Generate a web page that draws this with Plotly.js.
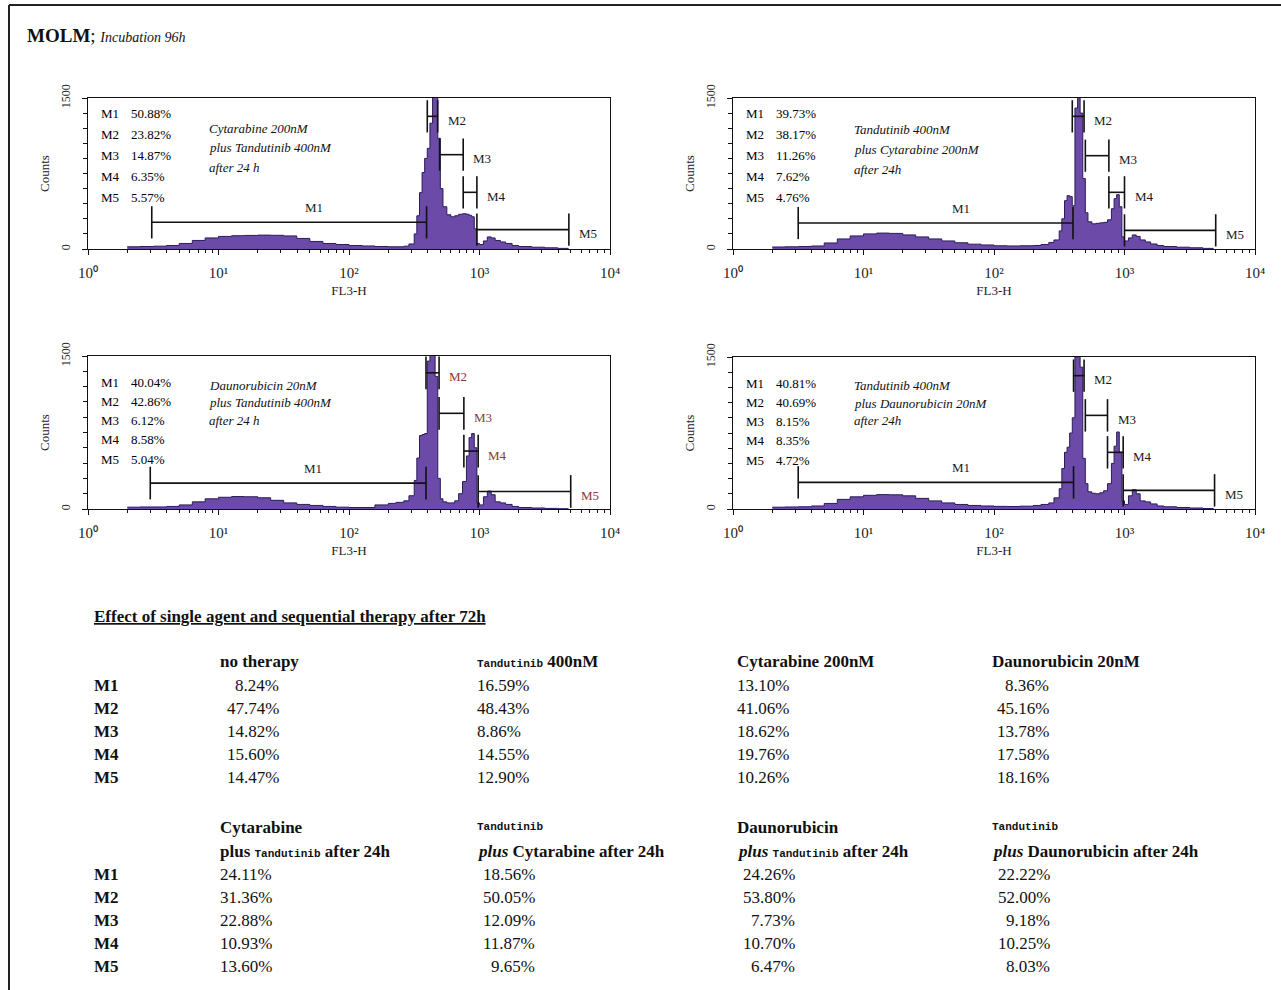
<!DOCTYPE html>
<html><head><meta charset="utf-8">
<script src="https://cdn.plot.ly/plotly-3.0.1.min.js"></script>
<style>html,body{margin:0;padding:0;background:#fff}#chart{width:1281px;height:990px}</style>
</head><body><div id="chart"></div>
<script>
// ---------- DATA ----------
// FL3-H channel values (left edge of each histogram bin)
const fl3 = [2.0, 2.5, 3.2, 4.0, 5.0, 6.3, 7.9, 10, 12.6, 15.8, 20, 25.1, 31.6, 39.8, 50.1, 63.1, 79.4,
  100, 126, 158, 200, 229, 263, 288, 316, 331, 347, 363, 380, 398, 417, 437, 457, 479, 501, 525, 562,
  603, 646, 692, 741, 794, 832, 871, 912, 955, 1000, 1072, 1148, 1230, 1318, 1445, 1585, 1778, 1995,
  2512, 3162, 3981, 4786];

// Counts per bin
const countsCytTan = [22, 25, 28, 35, 55, 85, 110, 125, 132, 135, 138, 136, 130, 105, 75, 55, 45,
  35, 30, 25, 22, 22, 28, 50, 150, 330, 560, 760, 900, 1000, 1250, 1650, 1700, 1100, 600, 420, 340,
  320, 330, 345, 350, 345, 335, 320, 200, 55, 45, 80, 120, 110, 85, 70, 55, 35, 25, 18, 12, 6, 0];
const countsTanCyt = [20, 22, 25, 30, 60, 100, 130, 150, 158, 155, 140, 120, 100, 80, 62, 48, 40,
  32, 30, 32, 35, 45, 65, 90, 180, 300, 480, 530, 520, 430, 1400, 1700, 1350, 700, 360, 270, 250,
  255, 260, 265, 290, 400, 500, 540, 420, 120, 80, 110, 140, 125, 90, 70, 50, 35, 25, 18, 12, 6, 0];
const countsDauTan = [18, 20, 20, 25, 40, 70, 100, 115, 122, 120, 110, 85, 60, 45, 35, 25, 18,
  15, 15, 40, 55, 65, 80, 130, 280, 500, 720, 730, 740, 1450, 1700, 1750, 1300, 300, 100, 70, 60,
  60, 80, 150, 270, 520, 700, 740, 600, 60, 40, 120, 175, 140, 70, 60, 45, 25, 15, 10, 6, 3, 0];
const countsTanDau = [18, 20, 22, 30, 55, 95, 120, 135, 142, 140, 130, 105, 80, 60, 45, 35, 30,
  26, 25, 28, 35, 45, 60, 110, 200, 400, 560, 610, 750, 900, 1500, 1750, 1400, 500, 250, 170, 155,
  150, 160, 180, 250, 450, 620, 760, 560, 80, 45, 130, 190, 150, 80, 70, 50, 30, 22, 15, 10, 5, 0];

// Marker gates M1..M5: left / right FL3-H bounds and the count level of the bracket
const gateNames = ['M1', 'M2', 'M3', 'M4', 'M5'];
const gateLeftCytTan  = [3.08, 398, 495, 750, 955];
const gateRightCytTan = [393, 478, 750, 955, 4840];
const gateLevelCytTan = [265, 1318, 937, 563, 192];
const gateLeftTanCyt  = [3.16, 398, 501, 759, 1000];
const gateRightTanCyt = [403, 490, 759, 1000, 5000];
const gateLevelTanCyt = [258, 1318, 927, 563, 185];
const gateLeftDauTan  = [3.0, 389, 490, 759, 977];
const gateRightDauTan = [389, 490, 759, 977, 5000];
const gateLevelDauTan = [254, 1335, 938, 568, 172];
const gateLeftTanDau  = [3.16, 407, 501, 741, 977];
const gateRightTanDau = [407, 490, 741, 977, 4900];
const gateLevelTanDau = [263, 1316, 924, 559, 184];

// Gate percentages shown in each panel
const pctCytTan = ['50.88%', '23.82%', '14.87%', '6.35%', '5.57%'];
const pctTanCyt = ['39.73%', '38.17%', '11.26%', '7.62%', '4.76%'];
const pctDauTan = ['40.04%', '42.86%', '6.12%', '8.58%', '5.04%'];
const pctTanDau = ['40.81%', '40.69%', '8.15%', '8.35%', '4.72%'];

// Treatment captions
const treatCytTan = ['Cytarabine 200nM', 'plus Tandutinib 400nM', 'after 24 h'];
const treatTanCyt = ['Tandutinib 400nM', 'plus Cytarabine 200nM', 'after 24h'];
const treatDauTan = ['Daunorubicin 20nM', 'plus Tandutinib 400nM', 'after 24 h'];
const treatTanDau = ['Tandutinib 400nM', 'plus Daunorubicin 20nM', 'after 24h'];

// x tick labels (decades)
const xTickVals = [1, 10, 100, 1000, 10000];
const xTickText = ['10\u2070', '10\u00B9', '10\u00B2', '10\u00B3', '10\u2074'];

// Table (effect after 72h)
const tableRows = ['M1', 'M2', 'M3', 'M4', 'M5'];
const singleHeaders = ['no therapy', 'Tandutinib 400nM', 'Cytarabine 200nM', 'Daunorubicin 20nM'];
const singleNoTherapy   = ['8.24%', '47.74%', '14.82%', '15.60%', '14.47%'];
const singleTandutinib  = ['16.59%', '48.43%', '8.86%', '14.55%', '12.90%'];
const singleCytarabine  = ['13.10%', '41.06%', '18.62%', '19.76%', '10.26%'];
const singleDaunorubicin = ['8.36%', '45.16%', '13.78%', '17.58%', '18.16%'];
const seqHeaderLine1 = ['Cytarabine', 'Tandutinib', 'Daunorubicin', 'Tandutinib'];
const seqHeaderLine2 = ['plus Tandutinib after 24h', 'plus Cytarabine after 24h', 'plus Tandutinib after 24h', 'plus Daunorubicin after 24h'];
const seqCytTan = ['24.11%', '31.36%', '22.88%', '10.93%', '13.60%'];
const seqTanCyt = ['18.56%', '50.05%', '12.09%', '11.87%', '9.65%'];
const seqDauTan = ['24.26%', '53.80%', '7.73%', '10.70%', '6.47%'];
const seqTanDau = ['22.22%', '52.00%', '9.18%', '10.25%', '8.03%'];

// ---------- LAYOUT / DRAWING ----------
const W = 1281, H = 990;
const PX = x => x / W, PY = y => 1 - y / H;
const SERIF = 'Liberation Serif, Times New Roman, serif';

const panels = [
  {counts: countsCytTan, L: gateLeftCytTan, R: gateRightCytTan, V: gateLevelCytTan, pct: pctCytTan, treat: treatCytTan,
   box: [88, 610, 98, 249], statTop: 16, statStep: 21, treatTop: [31, 50, 70], labColor: '#1a1a1a'},
  {counts: countsTanCyt, L: gateLeftTanCyt, R: gateRightTanCyt, V: gateLevelTanCyt, pct: pctTanCyt, treat: treatTanCyt,
   box: [733, 1255, 98, 249], statTop: 16, statStep: 21, treatTop: [32, 52, 72], labColor: '#1a1a1a'},
  {counts: countsDauTan, L: gateLeftDauTan, R: gateRightDauTan, V: gateLevelDauTan, pct: pctDauTan, treat: treatDauTan,
   box: [88, 610, 356, 509], statTop: 26, statStep: 19.3, treatTop: [29, 46, 64], labColor: '#8a3a36'},
  {counts: countsTanDau, L: gateLeftTanDau, R: gateRightTanDau, V: gateLevelTanDau, pct: pctTanDau, treat: treatTanDau,
   box: [733, 1255, 357, 509], statTop: 26, statStep: 19.3, treatTop: [28, 46, 63], labColor: '#1a1a1a'}
];

const minorX = [];
for (let d = 0; d < 4; d++) for (let k = 2; k <= 9; k++) minorX.push(k * Math.pow(10, d));

const traces = [], annotations = [], shapes = [];
const layout = {
  width: W, height: H, margin: {l: 0, r: 0, t: 0, b: 0},
  paper_bgcolor: '#fff', plot_bgcolor: '#fff', showlegend: false,
  font: {family: SERIF, color: '#1a1a1a'}
};

panels.forEach((p, i) => {
  const n = i + 1, xs = n === 1 ? '' : String(n);
  const xa = 'x' + xs, ya = 'y' + xs;
  const [bx0, bx1, by0, by1] = p.box;
  const hpx = by1 - by0;
  layout['xaxis' + xs] = {
    type: 'log', range: [0, 4], domain: [PX(bx0), PX(bx1)], anchor: ya,
    showline: true, mirror: true, linecolor: '#111', linewidth: 1,
    ticks: 'outside', ticklen: 5, tickcolor: '#111', tickwidth: 1,
    tickmode: 'array', tickvals: xTickVals, ticktext: xTickText,
    ticklabelstandoff: 5,
    minor: {ticks: 'outside', ticklen: 3, tickcolor: '#111', tickmode: 'array', tickvals: minorX, showgrid: false},
    showgrid: false, zeroline: false, fixedrange: true,
    tickfont: {family: SERIF, size: 15, color: '#222'},
    title: {text: 'FL3-H', font: {family: SERIF, size: 13, color: '#222'}, standoff: 5}
  };
  layout['yaxis' + xs] = {
    range: [0, 1500], domain: [PY(by1), PY(by0)], anchor: xa,
    showline: true, mirror: true, linecolor: '#111', linewidth: 1,
    ticks: 'outside', ticklen: 5, tickcolor: '#111',
    tickmode: 'array', tickvals: [0, 1500], ticktext: ['0', '1500'],
    tickangle: -90, ticklabelstandoff: 7,
    minor: {ticks: 'outside', ticklen: 4, tickcolor: '#111', dtick: 150, showgrid: false},
    showgrid: false, zeroline: false, fixedrange: true,
    tickfont: {family: SERIF, size: 12, color: '#222'},
    title: {text: 'Counts', font: {family: SERIF, size: 13, color: '#222'}, standoff: 6}
  };
  // histogram
  traces.push({
    type: 'scatter', mode: 'lines', x: fl3, y: p.counts, xaxis: xa, yaxis: ya,
    line: {shape: 'hv', color: '#2a1c5a', width: 1}, fill: 'tozeroy', fillcolor: '#6b4aa8',
    hoverinfo: 'skip'
  });
  // gates
  const gx = [], gy = [], TICK = 160;
  p.L.forEach((l, g) => {
    const r = p.R[g], v = p.V[g];
    gx.push(l, r, null, l, l, null, r, r, null);
    gy.push(v, v, null, v - TICK, v + TICK, null, v - TICK, v + TICK, null);
    const lab = {xref: xa, yref: ya, showarrow: false, text: gateNames[g],
      font: {family: SERIF, size: 13, color: g === 0 ? '#1a1a1a' : p.labColor}};
    if (g === 0) {
      Object.assign(lab, {x: (Math.log10(l) + Math.log10(r)) / 2, y: v, xanchor: 'center', yanchor: 'bottom', xshift: 25, yshift: 5});
    } else {
      Object.assign(lab, {x: Math.log10(r), y: v, xanchor: 'left', yanchor: 'middle', xshift: 8, yshift: -4});
    }
    annotations.push(lab);
    // stats lines
    const sy = 1 - (p.statTop + g * p.statStep) / hpx;
    annotations.push({xref: xa + ' domain', yref: ya + ' domain', x: 0.022, y: sy, xanchor: 'left', yanchor: 'middle',
      showarrow: false, text: gateNames[g], font: {family: SERIF, size: 13, color: '#000'}});
    annotations.push({xref: xa + ' domain', yref: ya + ' domain', x: 0.078, y: sy, xanchor: 'left', yanchor: 'middle',
      showarrow: false, text: p.pct[g], font: {family: SERIF, size: 13, color: '#000'}});
  });
  traces.push({type: 'scatter', mode: 'lines', x: gx, y: gy, xaxis: xa, yaxis: ya,
    line: {color: '#111', width: 1.6}, hoverinfo: 'skip', connectgaps: false});
  // treatment caption
  p.treat.forEach((t, k) => {
    annotations.push({xref: xa + ' domain', yref: ya + ' domain', x: 0.228, y: 1 - p.treatTop[k] / hpx,
      xanchor: 'left', yanchor: 'middle', showarrow: false, text: '<i>' + t + '</i>',
      font: {family: SERIF, size: 13, color: '#111'}});
  });
});

// figure title
annotations.push({xref: 'paper', yref: 'paper', x: PX(25), y: PY(35), xanchor: 'left', yanchor: 'middle', showarrow: false,
  text: '<b><span style="font-size:19px">MOLM</span></b><span style="font-size:19px">; </span><i>Incubation 96h</i>',
  font: {family: SERIF, size: 14, color: '#111'}});

// frame lines of the figure
shapes.push({type: 'line', xref: 'paper', yref: 'paper', x0: PX(9), x1: PX(9), y0: 0, y1: PY(5), line: {color: '#222', width: 2}});
shapes.push({type: 'line', xref: 'paper', yref: 'paper', x0: PX(9), x1: 1, y0: PY(5), y1: PY(5), line: {color: '#222', width: 2}});

// ---------- table ----------
const TFS = 17;
function styleDrug(s) {
  return s.replace(/Tandutinib/g, '<span style="font-family:Liberation Mono, monospace;font-size:11px">Tandutinib</span>');
}
function txt(x, y, text, anchor, opts) {
  annotations.push(Object.assign({xref: 'paper', yref: 'paper', x: PX(x), y: PY(y), xanchor: anchor || 'left', yanchor: 'middle',
    showarrow: false, text: text, font: {family: SERIF, size: TFS, color: '#111'}}, opts || {}));
}
txt(92, 616, '<b><u>Effect of single agent and sequential therapy after 72h</u></b>');

const colLeft = [218, 475, 735, 990];
const rowLabelX = 92;
// block 1
singleHeaders.forEach((h, c) => txt(colLeft[c], 661, '<b>' + styleDrug(h) + '</b>'));
const block1 = [singleNoTherapy, singleTandutinib, singleCytarabine, singleDaunorubicin];
const block1Align = [['right', 281], ['left', 475], ['left', 735], ['right', 1051]];
tableRows.forEach((r, k) => {
  const y = 685 + k * 23;
  txt(rowLabelX, y, '<b>' + r + '</b>');
  block1.forEach((col, c) => txt(block1Align[c][1], y, col[k], block1Align[c][0]));
});
// block 2
seqHeaderLine1.forEach((h, c) => txt(colLeft[c], 827, '<b>' + styleDrug(h) + '</b>'));
seqHeaderLine2.forEach((h, c) => txt(colLeft[c], 851, '<b>' + styleDrug(h).replace(/^plus/, c === 0 ? 'plus' : '<i>plus</i>') + '</b>'));
const block2 = [seqCytTan, seqTanCyt, seqDauTan, seqTanDau];
const block2Align = [['left', 218], ['right', 537], ['right', 797], ['right', 1052]];
tableRows.forEach((r, k) => {
  const y = 874 + k * 23;
  txt(rowLabelX, y, '<b>' + r + '</b>');
  block2.forEach((col, c) => txt(block2Align[c][1], y, col[k], block2Align[c][0]));
});

layout.annotations = annotations;
layout.shapes = shapes;
Plotly.newPlot('chart', traces, layout, {staticPlot: true, displayModeBar: false});
</script>
</body></html>
